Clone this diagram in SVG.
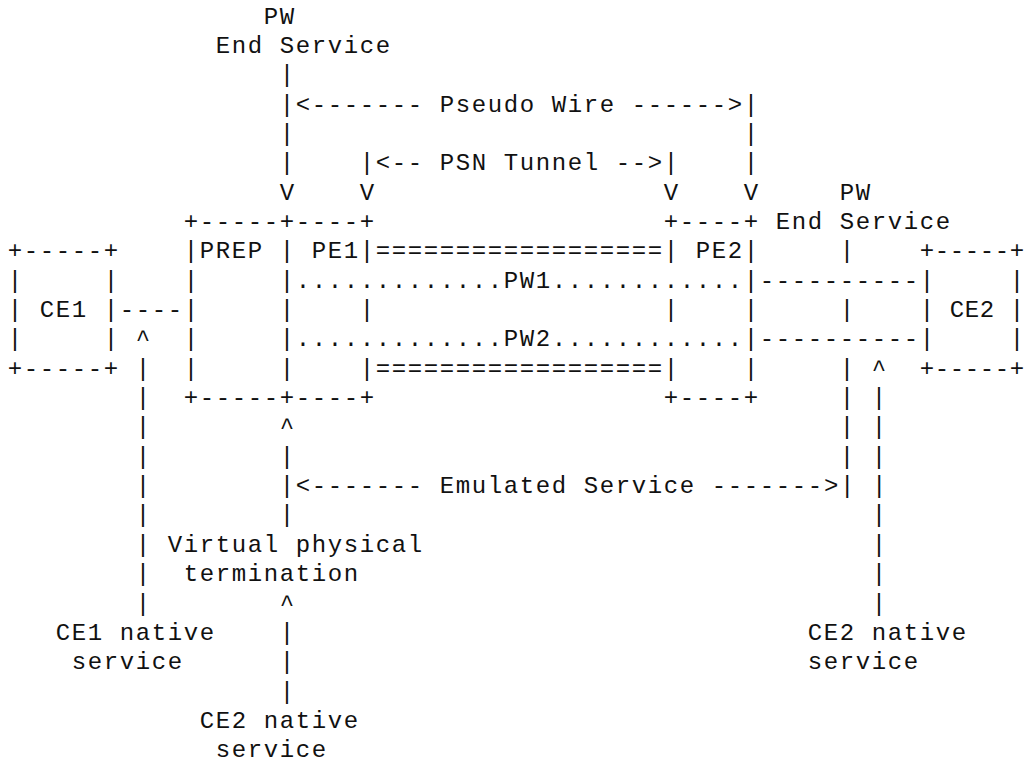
<svg xmlns="http://www.w3.org/2000/svg" width="1025" height="763" viewBox="0 0 1025 763" xml:space="preserve">
<style>
text{font-family:"Liberation Mono","DejaVu Sans Mono",monospace;font-size:24px;letter-spacing:1.6px;fill:#111;white-space:pre}
#ce2 text{letter-spacing:0.6px}
</style>
<rect x="0" y="0" width="1025" height="763" fill="#fff"/>
<g id="pw-end-service-left">
<text x="263.8" y="23.5">PW</text>
<text x="215.8" y="52.85">End Service</text>
</g>
<g id="pw-end-service-right">
<text x="839.8" y="199.6">PW</text>
<text x="775.8" y="228.95">End Service</text>
</g>
<g id="ce1">
<text x="7.8" y="258.3">+-----+</text>
<text x="7.8" y="287.65">|     |</text>
<text x="7.8" y="317">| CE1 |</text>
<text x="7.8" y="346.35">|     |</text>
<text x="7.8" y="375.7">+-----+</text>
</g>
<g id="prep-pe1">
<text x="183.8" y="228.95">+-----+----+</text>
<text x="183.8" y="258.3">|PREP | PE1|</text>
<text x="183.8" y="287.65">|     |</text>
<text x="183.8" y="317">|     |    |</text>
<text x="183.8" y="346.35">|     |</text>
<text x="183.8" y="375.7">|     |    |</text>
<text x="183.8" y="405.05">+-----+----+</text>
</g>
<g id="pe2">
<text x="663.8" y="228.95">+----+</text>
<text x="663.8" y="258.3">| PE2|</text>
<text x="743.8" y="287.65">|</text>
<text x="663.8" y="317">|    |</text>
<text x="743.8" y="346.35">|</text>
<text x="663.8" y="375.7">|    |</text>
<text x="663.8" y="405.05">+----+</text>
</g>
<g id="ce2">
<text x="919.8" y="258.3">+-----+</text>
<text x="919.8" y="287.65">|     |</text>
<text x="919.8" y="317">| CE2 |</text>
<text x="919.8" y="346.35">|     |</text>
<text x="919.8" y="375.7">+-----+</text>
</g>
<g id="virtual-termination">
<text x="167.8" y="551.8">Virtual physical</text>
<text x="183.8" y="581.15">termination</text>
</g>
<g id="ce1-native">
<text x="55.8" y="639.85">CE1 native</text>
<text x="71.8" y="669.2">service</text>
</g>
<g id="ce2-native-right">
<text x="807.8" y="639.85">CE2 native</text>
<text x="807.8" y="669.2">service</text>
</g>
<g id="ce2-native-bottom">
<text x="199.8" y="727.9">CE2 native</text>
<text x="215.8" y="757.25">service</text>
</g>
<g id="connectors">
<text x="279.8" y="82.2">|</text>
<text x="279.8" y="111.55">|&lt;------- Pseudo Wire ------&gt;|</text>
<text x="279.8" y="140.9">|                            |</text>
<text x="279.8" y="170.25">|    |&lt;-- PSN Tunnel --&gt;|    |</text>
<text x="279.8" y="199.6">V    V                  V    V</text>
<text x="375.8" y="258.3">==================</text>
<text x="375.8" y="375.7">==================</text>
<text x="295.8" y="287.65">.............PW1............</text>
<text x="295.8" y="346.35">.............PW2............</text>
<text x="119.8" y="317">----</text>
<text x="759.8" y="287.65">----------</text>
<text x="759.8" y="346.35">----------</text>
<text x="839.8" y="258.3">|</text>
<text x="839.8" y="317">|</text>
<text x="839.8" y="375.7">| ^</text>
<text x="839.8" y="405.05">| |</text>
<text x="839.8" y="434.4">| |</text>
<text x="839.8" y="463.75">| |</text>
<text x="279.8" y="493.1">|&lt;------- Emulated Service -------&gt;| |</text>
<text x="871.8" y="522.45">|</text>
<text x="871.8" y="551.8">|</text>
<text x="871.8" y="581.15">|</text>
<text x="871.8" y="610.5">|</text>
<text x="135.8" y="346.35">^</text>
<text x="135.8" y="375.7">|</text>
<text x="135.8" y="405.05">|</text>
<text x="135.8" y="434.4">|        ^</text>
<text x="135.8" y="463.75">|        |</text>
<text x="135.8" y="493.1">|</text>
<text x="135.8" y="522.45">|        |</text>
<text x="135.8" y="551.8">|</text>
<text x="135.8" y="581.15">|</text>
<text x="135.8" y="610.5">|        ^</text>
<text x="279.8" y="639.85">|</text>
<text x="279.8" y="669.2">|</text>
<text x="279.8" y="698.55">|</text>
</g>
</svg>
